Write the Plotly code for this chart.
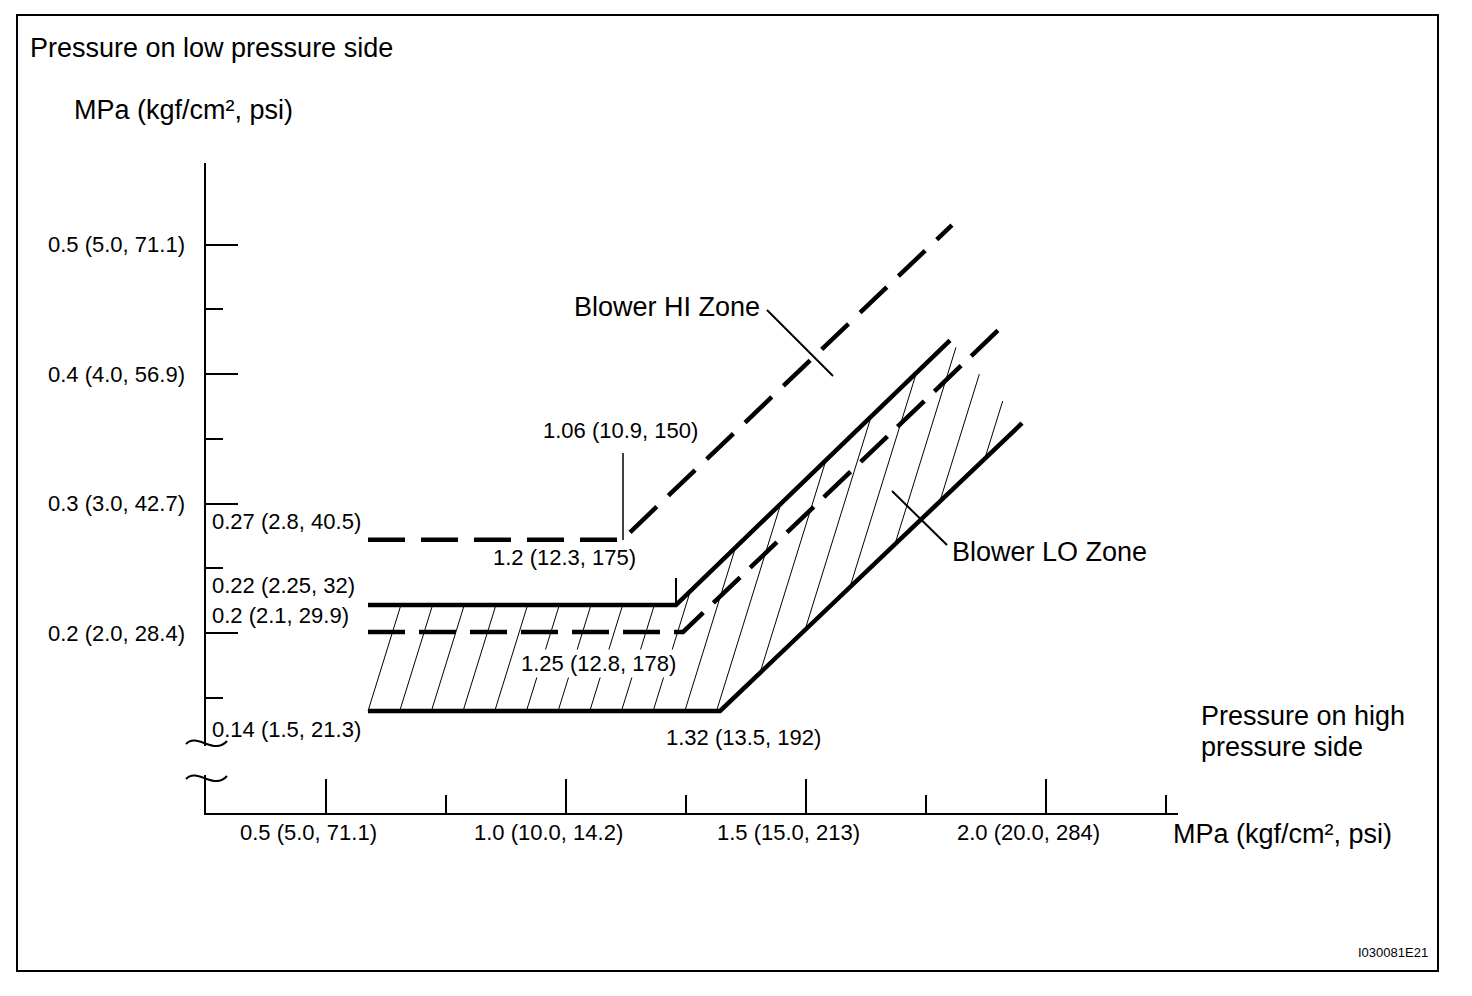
import numpy as np
import plotly.graph_objects as go

# values, MPa (x = high side, y = low side)
hi_x = [0.5875, 1.117, 1.804]
hi_y = [0.272, 0.272, 0.515]
lo_top_x = [0.5875, 1.229, 1.800]
lo_top_y = [0.2216, 0.2216, 0.426]
lo_mid_x = [0.5875, 1.244, 1.915]
lo_mid_y = [0.2008, 0.2008, 0.439]
lo_bot_x = [0.5875, 1.321, 1.950]
lo_bot_y = [0.1398, 0.1398, 0.362]

x_major = [0.5, 1.0, 1.5, 2.0]
x_major_text = ["0.5 (5.0, 71.1)", "1.0 (10.0, 14.2)", "1.5 (15.0, 213)", "2.0 (20.0, 284)"]
x_minor = [0.75, 1.25, 1.75, 2.25]
y_major = [0.2, 0.3, 0.4, 0.5]
y_major_text = ["0.2 (2.0, 28.4)", "0.3 (3.0, 42.7)", "0.4 (4.0, 56.9)", "0.5 (5.0, 71.1)"]
y_minor = [0.15, 0.25, 0.35, 0.45]

point_text = ["0.27 (2.8, 40.5)", "0.22 (2.25, 32)", "0.2 (2.1, 29.9)", "0.14 (1.5, 21.3)",
              "1.06 (10.9, 150)", "1.2 (12.3, 175)", "1.25 (12.8, 178)", "1.32 (13.5, 192)"]

FONT = "Liberation Sans, Arial, sans-serif"
BIG = 27
SMALL = 22

# page geometry (screen pixels of the plot box)
L, R, T, B = 206, 1178, 163, 813


def px(sx):
    return (sx - L) / (R - L)


def py(sy):
    return (B - sy) / (B - T)


# hatching of the LO zone: parallel lines clipped to the band
def inside(xs, ys, vx, vy):
    res = np.zeros(len(xs), dtype=bool)
    n = len(vx)
    j = n - 1
    for i in range(n):
        cond = ((vy[i] > ys) != (vy[j] > ys)) & \
               (xs < (vx[j] - vx[i]) * (ys - vy[i]) / (vy[j] - vy[i] + 1e-12) + vx[i])
        res ^= cond
        j = i
    return res


poly_x = np.array(lo_bot_x + lo_top_x[::-1])
poly_y = np.array(lo_bot_y + lo_top_y[::-1])
slope = 0.8364      # hatch direction: dx = slope * dy
step = 0.066
c0 = lo_bot_x[0] - slope * lo_bot_y[0] + 1e-4
hx, hy = [], []
ys = np.linspace(0.10, 0.50, 4001)
for k in range(30):
    xs = c0 + k * step + slope * ys
    m = inside(xs, ys, poly_x, poly_y)
    if not m.any():
        continue
    idx = np.where(m)[0]
    breaks = np.where(np.diff(idx) > 1)[0]
    starts = np.r_[idx[0], idx[breaks + 1]]
    ends = np.r_[idx[breaks], idx[-1]]
    for s, e in zip(starts, ends):
        hx += [xs[s], xs[e], None]
        hy += [ys[s], ys[e], None]

fig = go.Figure()
fig.add_trace(go.Scatter(x=hx, y=hy, mode="lines", line=dict(color="black", width=1),
                         hoverinfo="skip"))
fig.add_trace(go.Scatter(x=lo_bot_x, y=lo_bot_y, mode="lines",
                         line=dict(color="black", width=4.5)))
fig.add_trace(go.Scatter(x=lo_top_x, y=lo_top_y, mode="lines",
                         line=dict(color="black", width=4.5)))
fig.add_trace(go.Scatter(x=lo_mid_x, y=lo_mid_y, mode="lines",
                         line=dict(color="black", width=4.5, dash="37px,14px")))
fig.add_trace(go.Scatter(x=hi_x, y=hi_y, mode="lines",
                         line=dict(color="black", width=4.5, dash="37px,16px")))

shapes = [
    dict(type="rect", xref="paper", yref="paper", x0=px(17), x1=px(1438), y0=py(971), y1=py(15),
         line=dict(color="black", width=2)),
    # axis break
    dict(type="rect", xref="paper", yref="paper", x0=px(199), x1=px(214), y0=py(775), y1=py(746),
         fillcolor="white", line=dict(width=0), layer="above"),
    dict(type="path", xref="paper", yref="paper", layer="above",
         path=f"M {px(186)},{py(744)} C {px(197)},{py(732)} {px(214)},{py(756)} {px(227)},{py(741)}",
         line=dict(color="black", width=2)),
    dict(type="path", xref="paper", yref="paper", layer="above",
         path=f"M {px(186)},{py(779)} C {px(197)},{py(767)} {px(214)},{py(791)} {px(227)},{py(776)}",
         line=dict(color="black", width=2)),
    # leaders
    dict(type="line", xref="paper", yref="paper", x0=px(767), y0=py(310), x1=px(833), y1=py(376),
         line=dict(color="black", width=2)),
    dict(type="line", xref="paper", yref="paper", x0=px(892), y0=py(491), x1=px(947), y1=py(545),
         line=dict(color="black", width=2)),
    dict(type="line", xref="paper", yref="paper", x0=px(623), y0=py(453), x1=px(623), y1=py(540),
         line=dict(color="black", width=1.5)),
    dict(type="line", xref="paper", yref="paper", x0=px(676), y0=py(578), x1=px(676), y1=py(605),
         line=dict(color="black", width=2)),
]

annotations = []


def note(text, sx, sy, anchor="left", size=SMALL, bg=None):
    a = dict(text=text, xref="paper", yref="paper", x=px(sx), y=py(sy),
             xanchor=anchor, yanchor="middle", showarrow=False,
             font=dict(family=FONT, size=size, color="black"))
    if bg:
        a["bgcolor"] = bg
    annotations.append(a)


note("Pressure on low pressure side", 28, 48, size=BIG)
note("MPa (kgf/cm², psi)", 72, 110, size=BIG)
note("Blower HI Zone", 572, 307, size=BIG)
note("Blower LO Zone", 950, 552, size=BIG)
note("Pressure on high", 1199, 716, size=BIG)
note("pressure side", 1199, 747, size=BIG)
note("MPa (kgf/cm², psi)", 1171, 834, size=BIG)
note("I030081E21", 1430, 952, anchor="right", size=13)

for v, t in zip(y_major, y_major_text):
    note(t, 187, B - (v - 0.2) * 1295 - 180, anchor="right")
for v, t in zip(x_major, x_major_text):
    note(t, 86 + 480 * v - 18, 832, anchor="center")

pt_pos = [(210, 521), (210, 585), (210, 615), (210, 729),
          (541, 430), (491, 557), (519, 663), (664, 737)]
for t, (sx, sy) in zip(point_text, pt_pos):
    note(t, sx, sy, bg="white" if t.startswith("1.25") else None)

fig.update_layout(
    width=1456, height=980,
    margin=dict(l=L - 8, r=1464 - R, t=T - 8, b=988 - B),
    paper_bgcolor="white", plot_bgcolor="white",
    showlegend=False,
    xaxis=dict(range=[0.25, 2.275], showline=True, linecolor="black", linewidth=2,
               ticks="inside", tickvals=x_major, ticklen=34, tickwidth=2, tickcolor="black",
               showticklabels=False, showgrid=False, zeroline=False,
               minor=dict(tickvals=x_minor, ticks="inside", ticklen=18, tickwidth=2,
                          tickcolor="black", showgrid=False)),
    yaxis=dict(range=[0.2 - (B - 633) / 1295, 0.2 + (633 - T) / 1295], showline=True,
               linecolor="black", linewidth=2,
               ticks="inside", tickvals=y_major, ticklen=32, tickwidth=2, tickcolor="black",
               showticklabels=False, showgrid=False, zeroline=False,
               minor=dict(tickvals=y_minor, ticks="inside", ticklen=17, tickwidth=2,
                          tickcolor="black", showgrid=False)),
    shapes=shapes,
    annotations=annotations,
)

fig.write_html("out.html")
